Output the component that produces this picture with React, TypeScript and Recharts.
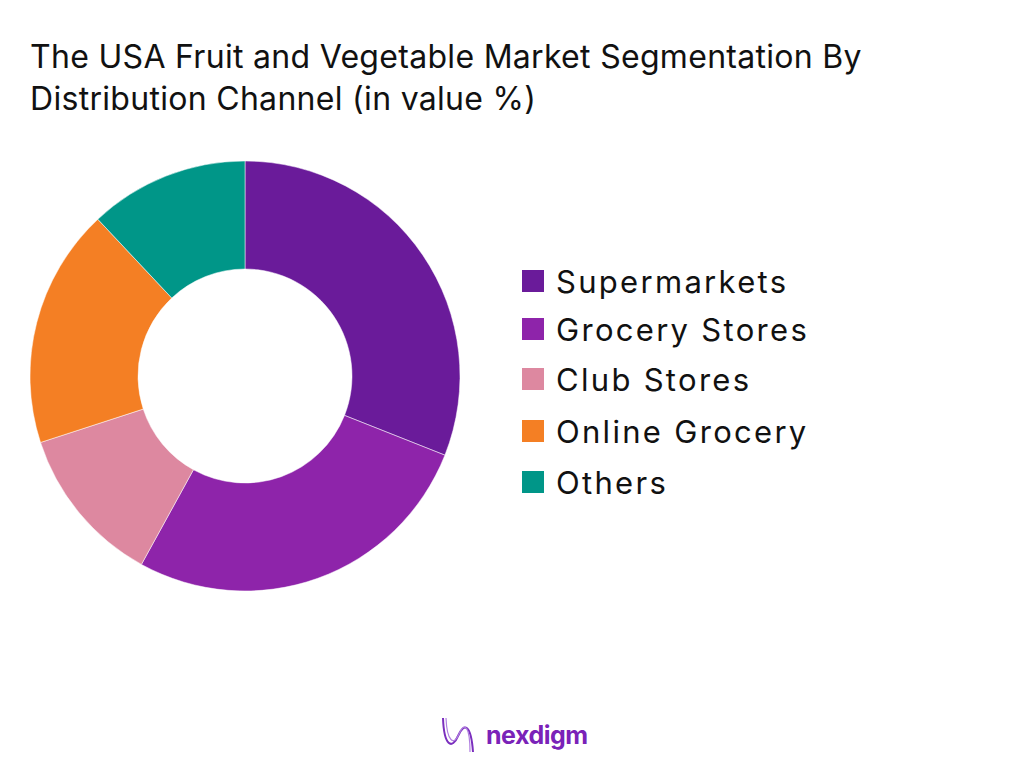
import { PieChart, Pie, Cell, Legend } from "recharts";

const channels = ["Supermarkets", "Grocery Stores", "Club Stores", "Online Grocery", "Others"];
const shares = [31, 27, 12, 18, 12];
const COLORS = ["#6A1B9A", "#8E24AA", "#DD88A0", "#F47F24", "#009688"];

const chartData = channels.map((name, i) => ({ name, value: shares[i] }));

const FONT = "Inter, 'Noto Sans', sans-serif";
const ROW_HEIGHTS = [48, 48, 52, 52, 50];

function LegendList() {
  return (
    <div style={{ fontFamily: FONT }}>
      {chartData.map((d, i) => (
        <div key={d.name} style={{ display: "flex", alignItems: "center", height: ROW_HEIGHTS[i] }}>
          <span
            style={{
              display: "inline-block",
              width: 22,
              height: 22,
              background: COLORS[i],
              marginRight: 12,
            }}
          />
          <span style={{ fontSize: 31, color: "#111", letterSpacing: 2.3 }}>{d.name}</span>
        </div>
      ))}
    </div>
  );
}

export default function App() {
  return (
    <div
      style={{
        position: "absolute",
        left: 0,
        top: 0,
        width: 1024,
        height: 768,
        background: "#fff",
        overflow: "hidden",
      }}
    >
      <div
        style={{
          position: "absolute",
          left: 30,
          top: 36,
          fontFamily: FONT,
          fontSize: 32,
          lineHeight: "42px",
          color: "#111",
          letterSpacing: 0.3,
          width: 960,
          whiteSpace: "nowrap",
        }}
      >
        The USA Fruit and Vegetable Market Segmentation By
        <br />
        Distribution Channel (in value %)
      </div>

      <div style={{ position: "absolute", left: 0, top: 0 }}>
        <PieChart width={1024} height={768} margin={{ top: 0, right: 0, bottom: 0, left: 0 }}>
          <Pie
            data={chartData}
            dataKey="value"
            nameKey="name"
            cx={245}
            cy={376}
            innerRadius={107}
            outerRadius={215}
            startAngle={90}
            endAngle={-270}
            stroke="#fff"
            strokeWidth={0.5}
            isAnimationActive={false}
          >
            {chartData.map((d, i) => (
              <Cell key={d.name} fill={COLORS[i]} />
            ))}
          </Pie>
          <Legend
            content={<LegendList />}
            wrapperStyle={{ position: "absolute", left: 522, top: 257, width: 340 }}
          />
        </PieChart>
      </div>

      <div
        style={{
          position: "absolute",
          left: 440,
          top: 716,
          display: "flex",
          alignItems: "center",
        }}
      >
        <svg width={36} height={38} viewBox="0 0 36 38">
          <path d="M3 2 C4 30, 12 34, 18 20 C24 6, 31 8, 33 36" fill="none" stroke="#7B2FBE" strokeWidth={2} />
          <path d="M6 2 C7 26, 14 30, 19 18 C25 4, 30 12, 30 36" fill="none" stroke="#B07FE0" strokeWidth={1.2} />
        </svg>
        <span
          style={{
            fontFamily: FONT,
            fontWeight: 700,
            fontSize: 25,
            color: "#7A22B8",
            marginLeft: 10,
            letterSpacing: -0.5,
          }}
        >
          nexdigm
        </span>
      </div>
    </div>
  );
}
